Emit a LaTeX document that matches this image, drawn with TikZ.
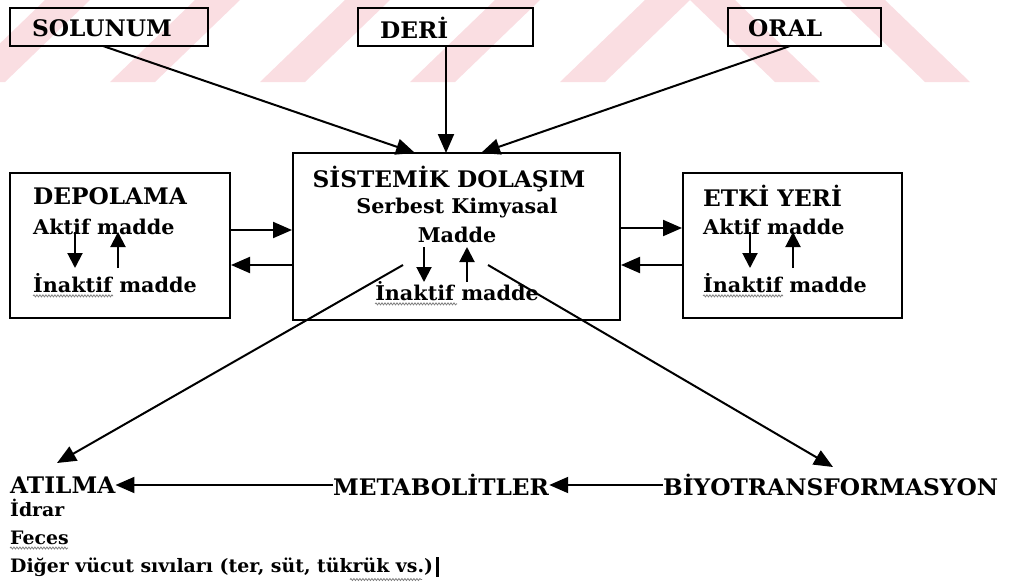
\documentclass[tikz,border=0pt]{standalone}
\usepackage{fontspec}
\setmainfont{DejaVu Serif}[FakeStretch=1.02]
\usetikzlibrary{arrows.meta,decorations.pathmorphing,calc}
\definecolor{wm}{RGB}{250,222,226}
\begin{document}
\begin{tikzpicture}[x=1pt,y=-1pt,
  box/.style={draw,line width=2pt,inner sep=0pt},
  caps/.style={font=\bfseries\fontsize{22.8}{26}\selectfont,inner sep=0pt,anchor=west},
  lbl/.style={font=\bfseries\fontsize{20.3}{24}\selectfont,inner sep=0pt,anchor=west},
  ccaps/.style={font=\bfseries\fontsize{22.8}{26}\selectfont,inner sep=0pt},
  clbl/.style={font=\bfseries\fontsize{20.3}{24}\selectfont,inner sep=0pt},
  small/.style={font=\bfseries\fontsize{18.5}{22}\selectfont,inner sep=0pt,anchor=west},
  conn/.style={line width=2pt,-{Triangle[length=19pt,width=16pt]}},
  sconn/.style={line width=2pt,-{Triangle[length=15pt,width=15pt]}},
  squig/.style={gray,line width=0.8pt,decorate,decoration={snake,amplitude=1pt,segment length=3pt}}]
\useasboundingbox (0,0) rectangle (1015,584);
% watermark
\foreach \b in {-40,110,260,410,560}{
  \fill[wm] (\b,82) -- (\b+45,82) -- (\b+130,0) -- (\b+85,0) -- cycle;}
\foreach \t in {690,840}{
  \fill[wm] (\t,0) -- (\t+45,0) -- (\t+130,82) -- (\t+85,82) -- cycle;}
% boxes
\node[box,minimum width=198pt,minimum height=38pt] (sol) at (109,27) {};
\node[box,minimum width=175pt,minimum height=38pt] (deri) at (445.5,27) {};
\node[box,minimum width=153pt,minimum height=38pt] (oral) at (804.5,27) {};
\node[box,minimum width=327pt,minimum height=167pt] (sys) at (456.5,236.5) {};
\node[box,minimum width=220pt,minimum height=145pt] (dep) at (120,245.5) {};
\node[box,minimum width=219pt,minimum height=145pt] (etki) at (792.5,245.5) {};
% box texts
\node[caps] (tsol) at (32,28) {SOLUNUM};
\node[caps] (tderi) at (380,28) {DERİ};
\node[caps] (toral) at (748,28) {ORAL};
\node[caps] (tdep) at (33,196) {DEPOLAMA};
\node[lbl] (tdepa) at (33,227) {Aktif madde};
\node[lbl] (tdepi) at (33,283) {İnaktif madde};
\node[ccaps] (tsys) at (449,179) {SİSTEMİK DOLAŞIM};
\node[clbl] (tsys2) at (457,208) {Serbest Kimyasal};
\node[clbl] (tsys3) at (457,235) {Madde};
\node[clbl] (tsysi) at (457,291) {İnaktif madde};
\node[caps] (tetki) at (703,196) {ETKİ YERİ};
\node[lbl] (tetkia) at (703,227) {Aktif madde};
\node[lbl] (tetkii) at (703,283) {İnaktif madde};
% bottom row
\node[caps] (atilma) at (10,485) {ATILMA};
\node[caps] (metab) at (333,485) {METABOLİTLER};
\node[caps] (biyo) at (663,485) {BİYOTRANSFORMASYON};
\node[small] (idrar) at (10,508) {İdrar};
\node[small] (feces) at (10,538) {Feces};
\node[small] (diger) at (10,567) {Diğer vücut sıvıları (ter, süt, tükrük vs.)};
% squiggles
\draw[squig] ($(tdepi.south west)+(0,3)$) -- ++(80,0);
\draw[squig] ($(tsysi.south west)+(0,3)$) -- ++(82,0);
\draw[squig] ($(tetkii.south west)+(0,3)$) -- ++(80,0);
\draw[squig] ($(feces.south west)+(0,3)$) -- ++(58,0);
\draw[squig] ($(diger.south west)+(340,3)$) -- ++(72,0);
\draw[line width=3pt] ($(diger.east)+(4,-10)$) -- ($(diger.east)+(4,10)$);
% coordinates for connectors
\coordinate (solA) at (103,46);
\coordinate (deriA) at (446,46);
\coordinate (oralA) at (790,46);
\coordinate (sysS) at (415,153);
\coordinate (sysD) at (446,153);
\coordinate (sysO) at (481,153);
\coordinate (sysL) at (403,265);
\coordinate (sysR) at (488,265);
\coordinate (atT) at (57,463);
\coordinate (biT) at (833,467);
% top connectors
\draw[conn] (solA) -- (sysS);
\draw[conn] (deriA) -- (sysD);
\draw[conn] (oralA) -- (sysO);
% side connectors
\draw[conn] (dep.east |- 0,230) -- (sys.west |- 0,230);
\draw[conn] (sys.west |- 0,265) -- (dep.east |- 0,265);
\draw[conn] (sys.east |- 0,228) -- (etki.west |- 0,228);
\draw[conn] (etki.west |- 0,265) -- (sys.east |- 0,265);
% inner arrows
\draw[sconn] (75,232) -- (75,268);
\draw[sconn] (118,268) -- (118,232);
\draw[sconn] (424,247) -- (424,282);
\draw[sconn] (467,282) -- (467,247);
\draw[sconn] (750,232) -- (750,268);
\draw[sconn] (793,268) -- (793,232);
% diagonals
\draw[conn] (sysL) -- (atT);
\draw[conn] (sysR) -- (biT);
% bottom
\draw[conn] (metab.west) -- (atilma.east);
\draw[conn] (biyo.west) -- (metab.east);
\end{tikzpicture}
\end{document}
